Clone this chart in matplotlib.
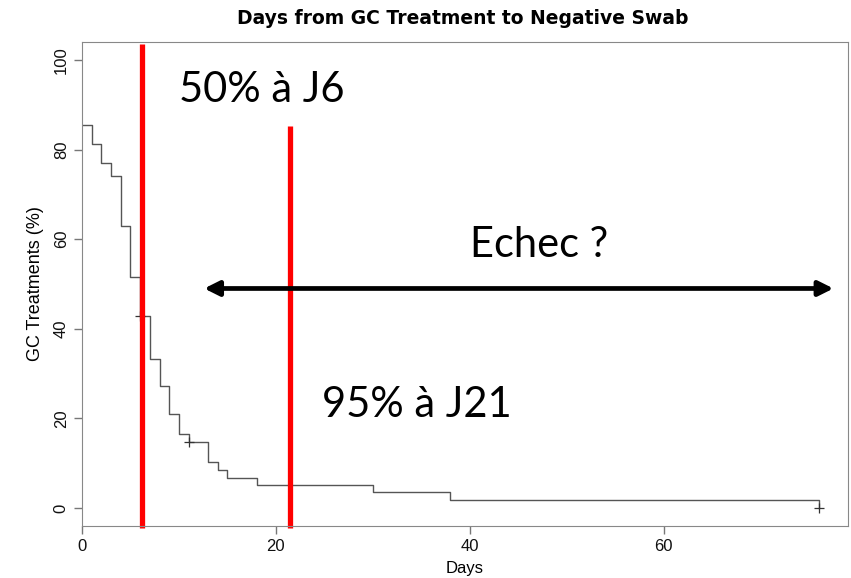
import numpy as np
import matplotlib.pyplot as plt

# Kaplan-Meier steps (days, % still positive)
days = [0, 1, 2, 3, 4, 5, 6, 7, 8, 9, 10, 11, 13, 14, 15, 18, 30, 38, 76]
pct = [85.4, 81.3, 77.1, 74.2, 62.9, 51.6, 42.9, 33.2, 27.2, 20.9, 16.5,
       14.8, 10.2, 8.4, 6.7, 5.1, 3.5, 1.8, 0.0]
cens_days = [6, 11, 76]
cens_pct = [42.9, 14.8, 0.0]

# overlay annotations
red_x = [6.2, 21.5]
red_top = [103.6, 85.3]
arrow_x = [12.6, 77.5]
arrow_y = 49.0
labels = ['50% à J6', 'Echec ?', '95% à J21']
label_x = [10.0, 40.0, 24.8]
label_y = [93.2, 58.6, 23.0]

fig = plt.figure(figsize=(8.51, 5.78), dpi=100)
ax = fig.add_axes([82 / 851, 1 - 526 / 578, 766 / 851, 484 / 578])

ax.step(days, pct, where='post', color='#555555', lw=1.0)
ax.plot(cens_days, cens_pct, '+', color='#333333', ms=7, mew=0.9)

ax.set_xlim(0, 79)
ax.set_ylim(-4, 104)
ax.set_xticks([0, 20, 40, 60])
ax.set_yticks([0, 20, 40, 60, 80, 100])
for s in ax.spines.values():
    s.set_color('#888888')
ax.tick_params(colors='#777777', labelcolor='#111111', length=6, width=1,
               labelsize=12)
for t in ax.get_xticklabels() + ax.get_yticklabels():
    t.set_family('Liberation Sans')
for t in ax.get_yticklabels():
    t.set_rotation(90)
    t.set_va('center')

ax.set_xlabel('Days', family='Liberation Sans', fontsize=12, labelpad=5)
ax.set_ylabel('GC Treatments (%)', family='Liberation Sans', fontsize=13,
              labelpad=7)
fig.text(463 / 851, 1 - 18 / 578, 'Days from GC Treatment to Negative Swab',
         ha='center', va='center', family='DejaVu Sans', weight='bold',
         fontsize=13.5)

for x, top in zip(red_x, red_top):
    ax.plot([x, x], [-4.5, top], color='red', lw=3.8, clip_on=False,
            solid_capstyle='butt')

ax.annotate('', xy=(arrow_x[0], arrow_y), xytext=(arrow_x[1], arrow_y),
            arrowprops=dict(arrowstyle='<|-|>', color='black', lw=3.4,
                            mutation_scale=22, shrinkA=0, shrinkB=0),
            annotation_clip=False)

for txt, x, y in zip(labels, label_x, label_y):
    ax.text(x, y, txt, ha='left', va='center', family='Lato', fontsize=30)

fig.savefig('out.png', dpi=100)
